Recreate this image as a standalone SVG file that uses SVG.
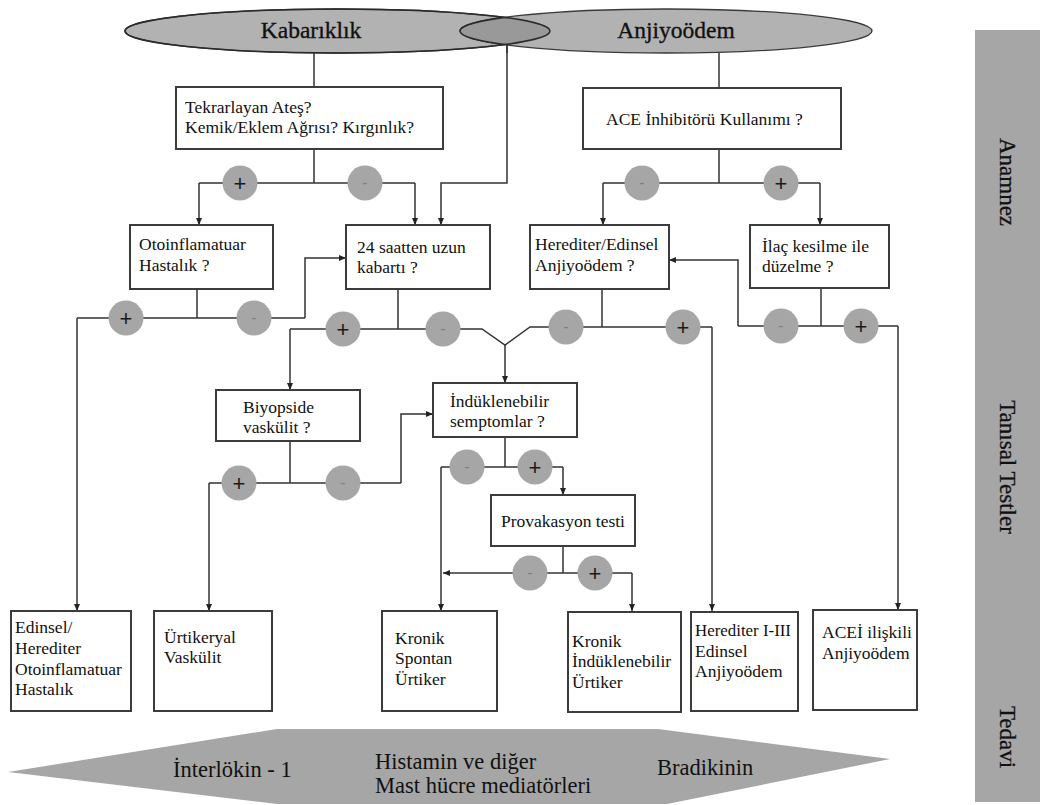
<svg xmlns="http://www.w3.org/2000/svg" width="1040" height="805" viewBox="0 0 1040 805">
<style>
.box{fill:#fff;stroke:#3c3c3c;stroke-width:2}
.t{font-family:"Liberation Serif","Times New Roman",serif;font-size:17.5px;fill:#111}
.title{font-family:"Liberation Serif","Times New Roman",serif;font-size:23.5px;fill:#111;stroke:#111;stroke-width:0.35}
.side{font-family:"Liberation Serif","Times New Roman",serif;font-size:23px;fill:#111;stroke:#111;stroke-width:0.3}
.ban{font-family:"Liberation Serif","Times New Roman",serif;font-size:22.5px;fill:#111}
.ln{fill:none;stroke:#333;stroke-width:1.5}
.arr{fill:none;stroke:#333;stroke-width:1.5;marker-end:url(#ah)}
.c{fill:#a6a6a6}
.plus{font-family:"Liberation Sans",Arial,sans-serif;font-size:22px;fill:#1a1a1a;text-anchor:middle}
.minus{font-family:"Liberation Sans",Arial,sans-serif;font-size:16px;fill:#808080;text-anchor:middle}
</style>
<defs>
<marker id="ah" markerUnits="userSpaceOnUse" markerWidth="8" markerHeight="8" refX="7" refY="4" orient="auto">
<path d="M0,1 L7,4 L0,7 Z" fill="#222"/>
</marker>
<clipPath id="kabclip"><ellipse cx="337.5" cy="31" rx="212.5" ry="22"/></clipPath>
</defs>

<!-- sidebar -->
<g id="sidebar">
<rect x="975" y="30" width="65" height="772" fill="#a6a6a6"/>
<text class="side" text-anchor="middle" transform="translate(1000,182) rotate(90)">Anamnez</text>
<text class="side" text-anchor="middle" transform="translate(1000,467) rotate(90)">Tanısal Testler</text>
<text class="side" text-anchor="middle" transform="translate(1000,737) rotate(90)">Tedavi</text>
</g>

<!-- bottom banner -->
<g id="banner">
<polygon points="8,772 277,729 658,729 890,759 667,804 277,804" fill="#a6a6a6"/>
<text class="ban" x="173" y="777">İnterlökin - 1</text>
<text class="ban" x="375" y="769">Histamin ve diğer</text>
<text class="ban" x="375" y="793">Mast hücre mediatörleri</text>
<text class="ban" x="657" y="775">Bradikinin</text>
</g>

<!-- connectors -->
<g id="connectors">
<path class="ln" d="M314 53 V87"/>
<path class="ln" d="M314 149 V183 M199 183 H415"/>
<path class="arr" d="M199 183 V225"/>
<path class="arr" d="M415 183 V225"/>
<path class="arr" d="M507 45 V183 H441 V225"/>
<path class="ln" d="M197 289 V318 M77 318 H305"/>
<path class="arr" d="M305 318 V258 H346"/>
<path class="arr" d="M77 318 V611"/>
<path class="ln" d="M398 289 V329 M290 329 H482 L505 345 L530 327 H712"/>
<path class="arr" d="M290 329 V390"/>
<path class="arr" d="M505 345 V383"/>
<path class="ln" d="M602 289 V327"/>
<path class="arr" d="M712 327 V611"/>
<path class="ln" d="M290 441 V483 M209 483 H401"/>
<path class="arr" d="M209 483 V611"/>
<path class="arr" d="M401 483 V414 H433"/>
<path class="ln" d="M505 437 V467 M441 467 H563"/>
<path class="arr" d="M563 467 V495"/>
<path class="arr" d="M441 467 V611"/>
<path class="ln" d="M563 546 V573 M563 573 H632"/>
<path class="arr" d="M563 573 H443"/>
<path class="arr" d="M632 573 V611"/>
<path class="ln" d="M719 53 V88"/>
<path class="ln" d="M719 149 V183 M603 183 H820"/>
<path class="arr" d="M603 183 V225"/>
<path class="arr" d="M820 183 V225"/>
<path class="ln" d="M821 288 V326 M738 326 H898"/>
<path class="arr" d="M738 326 V260 H669"/>
<path class="arr" d="M898 326 V610"/>
</g>

<!-- top ellipses -->
<g id="kabariklik">
<ellipse cx="337.5" cy="31" rx="212.5" ry="22" fill="#b2b2b2" stroke="#3a3a3a" stroke-width="1.3"/>
</g>
<g id="anjiyoodem">
<ellipse cx="666" cy="31" rx="206" ry="22" fill="#b2b2b2" stroke="#3a3a3a" stroke-width="1.3"/>
<ellipse cx="666" cy="31" rx="206" ry="22" fill="#999" stroke="#2a2a2a" stroke-width="1.5" clip-path="url(#kabclip)"/>
<ellipse cx="337.5" cy="31" rx="212.5" ry="22" fill="none" stroke="#2a2a2a" stroke-width="1.5"/>
<text class="title" x="311" y="38" text-anchor="middle">Kabarıklık</text>
<text class="title" x="676" y="38" text-anchor="middle">Anjiyoödem</text>
</g>
<path class="ln" d="M507 45 V53"/>

<!-- nodes -->
<g id="n-tekrarlayan">
<rect class="box" x="176" y="87" width="267" height="62"/>
<text class="t" x="185" y="113">Tekrarlayan Ateş?</text>
<text class="t" x="185" y="133">Kemik/Eklem Ağrısı? Kırgınlık?</text>
</g>
<g id="n-ace">
<rect class="box" x="583" y="88" width="258" height="61"/>
<text class="t" x="606" y="125">ACE İnhibitörü Kullanımı ?</text>
</g>
<g id="n-otoinf">
<rect class="box" x="130" y="225" width="143" height="64"/>
<text class="t" x="139" y="250">Otoinflamatuar</text>
<text class="t" x="139" y="271">Hastalık ?</text>
</g>
<g id="n-24saat">
<rect class="box" x="346" y="225" width="144" height="64"/>
<text class="t" x="357" y="253">24 saatten uzun</text>
<text class="t" x="357" y="273">kabartı ?</text>
</g>
<g id="n-herediter-edinsel">
<rect class="box" x="530" y="225" width="139" height="64"/>
<text class="t" x="535" y="250">Herediter/Edinsel</text>
<text class="t" x="535" y="271">Anjiyoödem ?</text>
</g>
<g id="n-ilac">
<rect class="box" x="750" y="225" width="139" height="63"/>
<text class="t" x="762" y="252">İlaç kesilme ile</text>
<text class="t" x="762" y="272">düzelme ?</text>
</g>
<g id="n-biyopsi">
<rect class="box" x="216" y="390" width="144" height="51"/>
<text class="t" x="243" y="413">Biyopside</text>
<text class="t" x="243" y="433">vaskülit ?</text>
</g>
<g id="n-induklenebilir">
<rect class="box" x="433" y="383" width="144" height="54"/>
<text class="t" x="450" y="407">İndüklenebilir</text>
<text class="t" x="450" y="427">semptomlar ?</text>
</g>
<g id="n-provakasyon">
<rect class="box" x="491" y="495" width="144" height="51"/>
<text class="t" x="563" y="527" text-anchor="middle">Provakasyon testi</text>
</g>
<g id="n-edinsel-oto">
<rect class="box" x="11" y="611" width="120" height="100"/>
<text class="t" x="15" y="633">Edinsel/</text>
<text class="t" x="15" y="654">Herediter</text>
<text class="t" x="15" y="675">Otoinflamatuar</text>
<text class="t" x="15" y="695">Hastalık</text>
</g>
<g id="n-urtikeryal">
<rect class="box" x="154" y="611" width="118" height="100"/>
<text class="t" x="164" y="643">Ürtikeryal</text>
<text class="t" x="164" y="663">Vaskülit</text>
</g>
<g id="n-kronik-spontan">
<rect class="box" x="382" y="611" width="115" height="100"/>
<text class="t" x="395" y="644">Kronik</text>
<text class="t" x="395" y="664">Spontan</text>
<text class="t" x="395" y="685">Ürtiker</text>
</g>
<g id="n-kronik-ind">
<rect class="box" x="568" y="612" width="113" height="100"/>
<text class="t" x="572" y="647">Kronik</text>
<text class="t" x="572" y="667">İndüklenebilir</text>
<text class="t" x="572" y="688">Ürtiker</text>
</g>
<g id="n-herediter-123">
<rect class="box" x="691" y="612" width="107" height="99"/>
<text class="t" x="695" y="636" textLength="96" lengthAdjust="spacingAndGlyphs">Herediter I-III</text>
<text class="t" x="695" y="657">Edinsel</text>
<text class="t" x="695" y="677">Anjiyoödem</text>
</g>
<g id="n-acei">
<rect class="box" x="813" y="610" width="104" height="100"/>
<text class="t" x="822" y="638">ACEİ ilişkili</text>
<text class="t" x="822" y="659">Anjiyoödem</text>
</g>

<!-- decision circles -->
<g id="signs">
<circle class="c" cx="240" cy="183" r="17.5"/><text class="plus" x="240" y="190.5">+</text>
<circle class="c" cx="365" cy="183" r="17.5"/><text class="minus" x="365" y="187.5">-</text>
<circle class="c" cx="642" cy="183" r="17.5"/><text class="minus" x="642" y="187.5">-</text>
<circle class="c" cx="781" cy="183" r="17.5"/><text class="plus" x="781" y="190.5">+</text>
<circle class="c" cx="126" cy="318" r="17.5"/><text class="plus" x="126" y="325.5">+</text>
<circle class="c" cx="254" cy="318" r="17.5"/><text class="minus" x="254" y="322.5">-</text>
<circle class="c" cx="343" cy="329" r="17.5"/><text class="plus" x="343" y="336.5">+</text>
<circle class="c" cx="443" cy="329" r="17.5"/><text class="minus" x="443" y="333.5">-</text>
<circle class="c" cx="566" cy="327" r="17.5"/><text class="minus" x="566" y="331.5">-</text>
<circle class="c" cx="683" cy="327" r="17.5"/><text class="plus" x="683" y="334.5">+</text>
<circle class="c" cx="781" cy="326" r="17.5"/><text class="minus" x="781" y="330.5">-</text>
<circle class="c" cx="861" cy="326" r="17.5"/><text class="plus" x="861" y="333.5">+</text>
<circle class="c" cx="239" cy="483" r="17.5"/><text class="plus" x="239" y="490.5">+</text>
<circle class="c" cx="343" cy="483" r="17.5"/><text class="minus" x="343" y="487.5">-</text>
<circle class="c" cx="467" cy="467" r="17.5"/><text class="minus" x="467" y="471.5">-</text>
<circle class="c" cx="535" cy="467" r="17.5"/><text class="plus" x="535" y="474.5">+</text>
<circle class="c" cx="530" cy="573" r="17.5"/><text class="minus" x="530" y="577.5">-</text>
<circle class="c" cx="595" cy="573" r="17.5"/><text class="plus" x="595" y="580.5">+</text>
</g>
</svg>
